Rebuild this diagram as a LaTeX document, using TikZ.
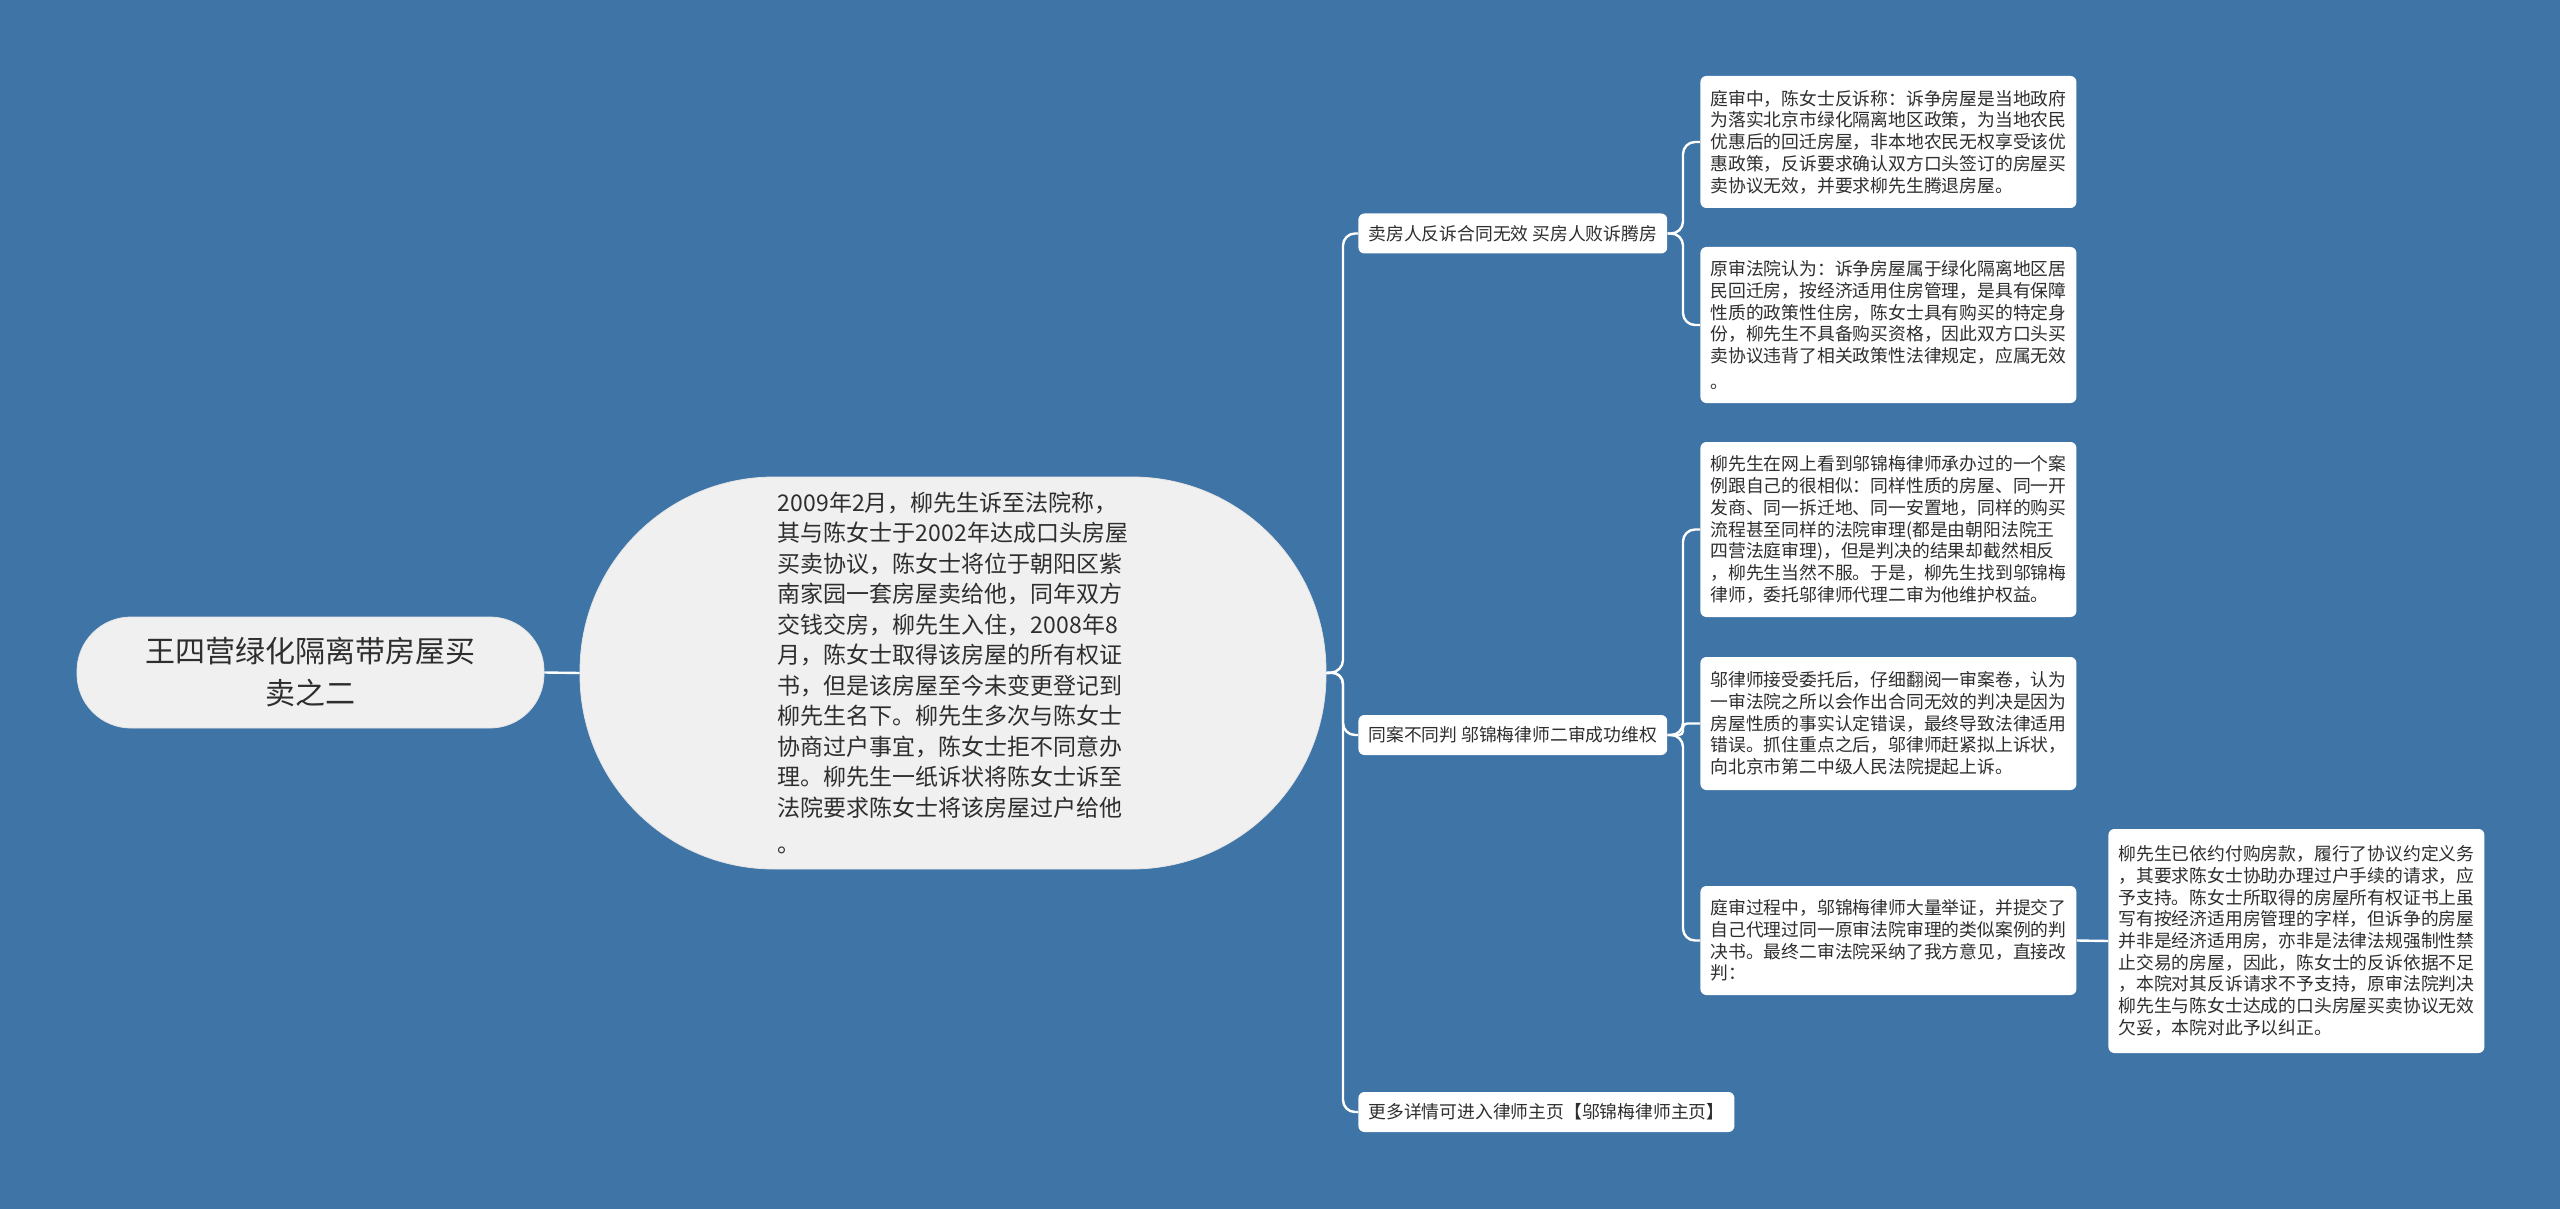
\documentclass[tikz,border=0pt]{standalone}
\usepackage{fontspec}
\setmainfont{Noto Sans CJK SC}
\definecolor{bgblue}{HTML}{3F74A7}
\definecolor{nodegray}{HTML}{F0F0F0}
\definecolor{txtgray}{HTML}{2E2E2E}

\begin{document}
\begin{tikzpicture}[x=0.5pt, y=-0.5pt,
    topic/.style={fill=nodegray, draw=white!80!gray, text=txtgray, rounded corners=27pt,
      minimum width=233.5pt, minimum height=55.5pt, align=center,
      font=\fontsize{15pt}{21pt}\selectfont},
    facts/.style={fill=nodegray, draw=white!80!gray, text=txtgray, rounded corners=97pt,
      minimum width=373pt, minimum height=196pt, align=left,
      font=\fontsize{11.5pt}{15.25pt}\selectfont},
    branch/.style={fill=white, text=txtgray, rounded corners=3pt, inner xsep=5pt,
      minimum height=20pt, font=\fontsize{8.9pt}{10.85pt}\selectfont},
    leaf/.style={fill=white, text=txtgray, rounded corners=3pt, inner xsep=5pt,
      minimum width=188pt, align=left, font=\fontsize{8.9pt}{10.85pt}\selectfont},
    link/.style={draw=white, line width=1.2pt, rounded corners=6pt}]

  % Background
  \fill[bgblue] (0,0) rectangle (2560,1209);

  % Root topic and case facts
  \node[topic] (topic) at (310.5,672.5) {王四营绿化隔离带房屋买\\卖之二};
  \node[facts] (facts) at (953,673) {2009年2月，柳先生诉至法院称，\\其与陈女士于2002年达成口头房屋\\买卖协议，陈女士将位于朝阳区紫\\南家园一套房屋卖给他，同年双方\\交钱交房，柳先生入住，2008年8\\月，陈女士取得该房屋的所有权证\\书，但是该房屋至今未变更登记到\\柳先生名下。柳先生多次与陈女士\\协商过户事宜，陈女士拒不同意办\\理。柳先生一纸诉状将陈女士诉至\\法院要求陈女士将该房屋过户给他\\[3pt]。};

  % Branches
  \node[branch, anchor=west] (counter) at (1358,233.5) {卖房人反诉合同无效 买房人败诉腾房};
  \node[branch, anchor=west] (appeal) at (1358,735) {同案不同判 邬锦梅律师二审成功维权};
  \node[branch, anchor=west] (more) at (1358,1112) {更多详情可进入律师主页【邬锦梅律师主页】};

  % First instance
  \node[leaf, anchor=west, minimum height=66pt] (claim) at (1700,142) {庭审中，陈女士反诉称：诉争房屋是当地政府\\为落实北京市绿化隔离地区政策，为当地农民\\优惠后的回迁房屋，非本地农民无权享受该优\\惠政策，反诉要求确认双方口头签订的房屋买\\卖协议无效，并要求柳先生腾退房屋。};
  \node[leaf, anchor=west, minimum height=78pt] (ruling) at (1700,325) {原审法院认为：诉争房屋属于绿化隔离地区居\\民回迁房，按经济适用住房管理，是具有保障\\性质的政策性住房，陈女士具有购买的特定身\\份，柳先生不具备购买资格，因此双方口头买\\卖协议违背了相关政策性法律规定，应属无效\\[2pt]。};

  % Second instance
  \node[leaf, anchor=west, minimum height=87.5pt] (hire) at (1700,529.5) {柳先生在网上看到邬锦梅律师承办过的一个案\\例跟自己的很相似：同样性质的房屋、同一开\\发商、同一拆迁地、同一安置地，同样的购买\\流程甚至同样的法院审理(都是由朝阳法院王\\四营法庭审理)，但是判决的结果却截然相反\\，柳先生当然不服。于是，柳先生找到邬锦梅\\律师，委托邬律师代理二审为他维护权益。};
  \node[leaf, anchor=west, minimum height=66.5pt] (review) at (1700,723.5) {邬律师接受委托后，仔细翻阅一审案卷，认为\\一审法院之所以会作出合同无效的判决是因为\\房屋性质的事实认定错误，最终导致法律适用\\错误。抓住重点之后，邬律师赶紧拟上诉状，\\向北京市第二中级人民法院提起上诉。};
  \node[leaf, anchor=west, minimum height=54.5pt] (trial) at (1700,940.5) {庭审过程中，邬锦梅律师大量举证，并提交了\\自己代理过同一原审法院审理的类似案例的判\\决书。最终二审法院采纳了我方意见，直接改\\判：};
  \node[leaf, anchor=west, minimum height=112pt] (verdict) at (2108,941) {柳先生已依约付购房款，履行了协议约定义务\\，其要求陈女士协助办理过户手续的请求，应\\予支持。陈女士所取得的房屋所有权证书上虽\\写有按经济适用房管理的字样，但诉争的房屋\\并非是经济适用房，亦非是法律法规强制性禁\\止交易的房屋，因此，陈女士的反诉依据不足\\，本院对其反诉请求不予支持，原审法院判决\\柳先生与陈女士达成的口头房屋买卖协议无效\\欠妥，本院对此予以纠正。};

  % Junctions
  \coordinate (jmain) at (1343,672);
  \coordinate (jcounter) at (1683,233.5);
  \coordinate (jappeal) at (1683,735);

  % Connectors
  \draw[link] (topic.east) -- (facts.west);
  \draw[link] (facts.east) -- (jmain) |- (counter.west);
  \draw[link] (facts.east) -- (jmain) |- (appeal.west);
  \draw[link] (facts.east) -- (jmain) |- (more.west);
  \draw[link] (counter.east) -- (jcounter) |- (claim.west);
  \draw[link] (counter.east) -- (jcounter) |- (ruling.west);
  \draw[link] (appeal.east) -- (jappeal) |- (hire.west);
  \draw[link, rounded corners=2pt] (appeal.east) -- (jappeal) |- (review.west);
  \draw[link] (appeal.east) -- (jappeal) |- (trial.west);
  \draw[link] (trial.east) -- (verdict.west);
\end{tikzpicture}
\end{document}
